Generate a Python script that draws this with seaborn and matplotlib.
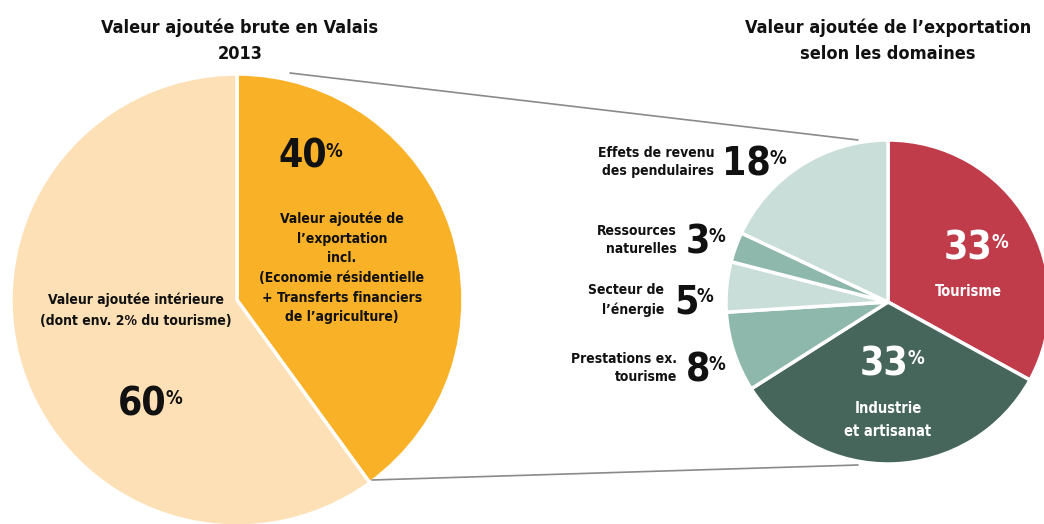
import matplotlib
matplotlib.use("Agg")
import matplotlib.pyplot as plt
import seaborn as sns

sns.set_theme(style="white")
plt.rcParams['font.family'] = ['DejaVu Sans']
plt.rcParams['font.stretch'] = 'condensed'

# ---- data ----
left_categories = ["Valeur ajoutée de l’exportation", "Valeur ajoutée intérieure"]
left_values = [40, 60]
right_categories = ["Tourisme", "Industrie et artisanat", "Prestations ex. tourisme",
                    "Secteur de l’énergie", "Ressources naturelles",
                    "Effets de revenu des pendulaires"]
right_values = [33, 33, 8, 5, 3, 18]

left_colors = ["#F9B128", "#FDE0B5"]
right_colors = ["#C03C4A", "#46665C", "#8FB8AC", "#C9DED8", "#8FB8AC", "#C9DED8"]

W, H = 1044, 524
fig = plt.figure(figsize=(W / 100, H / 100), dpi=100)
ax = fig.add_axes([0, 0, 1, 1])

def Y(py):
    return H - py

ax.pie(left_values, colors=left_colors, startangle=90, counterclock=False,
       center=(237, Y(300)), radius=226, frame=True,
       wedgeprops=dict(edgecolor="white", linewidth=2.5))
ax.pie(right_values, colors=right_colors, startangle=90, counterclock=False,
       center=(888, Y(302)), radius=162, frame=True,
       wedgeprops=dict(edgecolor="white", linewidth=2.5))
ax.set_xlim(0, W)
ax.set_ylim(0, H)
ax.set_aspect("equal")
ax.axis("off")

# connecting lines
ax.plot([290, 858], [Y(73), Y(140)], color="#8a8a8a", lw=1.2)
ax.plot([372, 858], [Y(480), Y(465)], color="#8a8a8a", lw=1.2)

bold = dict(fontweight="bold", fontstretch="condensed")

# titles
ax.text(240, Y(41), "Valeur ajoutée brute en Valais\n2013", ha="center", va="center",
        fontsize=13, linespacing=1.55, color="#111111", **bold)
ax.text(888, Y(41), "Valeur ajoutée de l’exportation\nselon les domaines", ha="center",
        va="center", fontsize=13, linespacing=1.55, color="#111111", **bold)

def pct(x, y, num, color="#111111", ha="left", size=28):
    t = ax.text(x, y, num, ha=ha, va="center", fontsize=size, color=color, **bold)
    ax.annotate("%", xy=(1, 0.9), xycoords=t, xytext=(-1, 0), textcoords="offset points",
                ha="left", va="top", fontsize=size * 0.48, color=color, **bold)
    return t

# left pie texts
pct(278, Y(157), f"{left_values[0]}")
ax.text(342, Y(268), "Valeur ajoutée de\nl’exportation\nincl.\n(Economie résidentielle\n+ Transferts financiers\nde l’agriculture)",
        ha="center", va="center", fontsize=10, linespacing=1.5, color="#111111", **bold)
ax.text(136, Y(310), "Valeur ajoutée intérieure\n(dont env. 2% du tourisme)", ha="center",
        va="center", fontsize=10, linespacing=1.6, color="#111111", **bold)
pct(118, Y(404), f"{left_values[1]}")

# right pie texts
pct(944, Y(248), f"{right_values[0]}", color="white")
ax.text(968, Y(292), "Tourisme", ha="center", va="center", fontsize=10.5, color="white", **bold)
pct(860, Y(364), f"{right_values[1]}", color="white")
ax.text(888, Y(420), "Industrie\net artisanat", ha="center", va="center", fontsize=10.5,
        linespacing=1.6, color="white", **bold)

side = [
    ("Effets de revenu\ndes pendulaires", right_values[5], 714, 722, 162),
    ("Ressources\nnaturelles", right_values[4], 677, 686, 240),
    ("Secteur de\nl’énergie", right_values[3], 664, 674, 300),
    ("Prestations ex.\ntourisme", right_values[2], 677, 686, 368),
]
for lab, v, xl, xn, yc in side:
    ax.text(xl, Y(yc), lab, ha="right", va="center", fontsize=10, linespacing=1.45,
            color="#111111", **bold)
    pct(xn, Y(yc + 2), f"{v}")

fig.savefig("out.png", dpi=100, facecolor="white")
